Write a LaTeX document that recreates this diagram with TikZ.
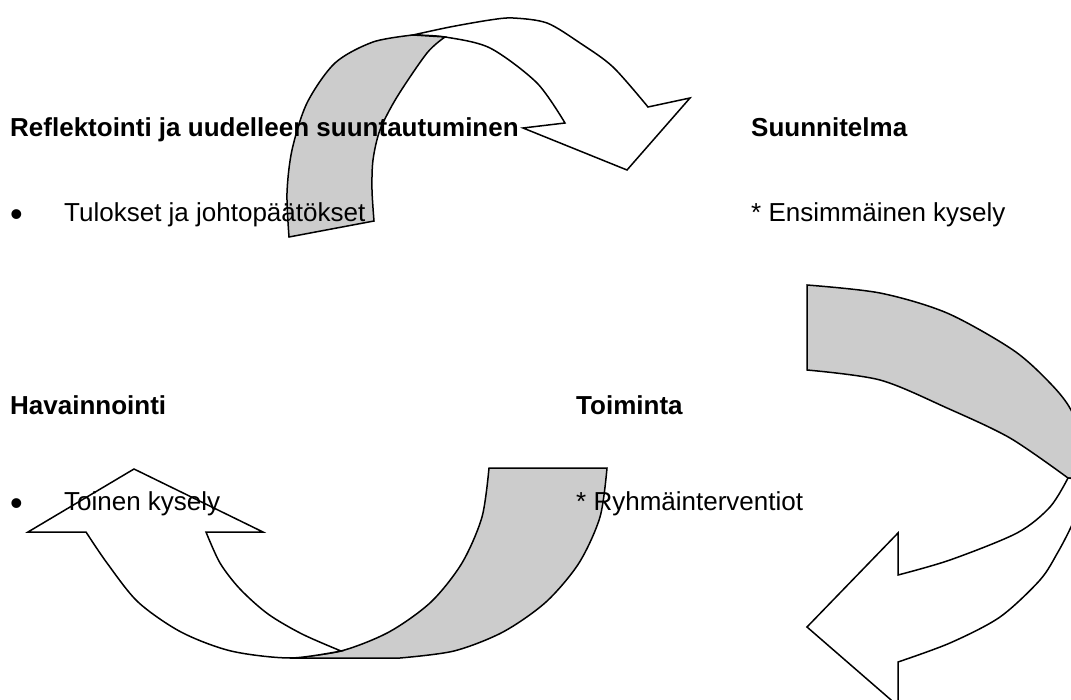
\documentclass[tikz,border=0pt]{standalone}
\usepackage{fontspec}
\setmainfont{Liberation Sans}
\definecolor{ribbon}{RGB}{204,204,204}
\begin{document}
\begin{tikzpicture}[x=1pt,y=-1pt,
  shapeline/.style={draw=black, line width=1.5pt, line join=miter},
  back/.style={shapeline, fill=ribbon},
  front/.style={shapeline, fill=white},
  head/.style={anchor=base west, inner sep=0pt, font=\fontsize{26}{30}\selectfont\bfseries},
  body/.style={anchor=base west, inner sep=0pt, font=\fontsize{26}{30}\selectfont},
  dot/.style={anchor=base west, inner sep=0pt, font=\fontsize{36}{40}\selectfont}]
\useasboundingbox (0,0) rectangle (1071,700);
\begin{scope}
\clip (0,0) rectangle (1071,700);
% top arrow
\path[front] plot[smooth] coordinates {(413,35) (450,27) (490,20) (513,18) (547,23) (580,43) (613,67) (648,107)}
  -- (690,98) -- (627,170) -- (523,128) -- (565,123)
  -- plot[smooth] coordinates {(565,123) (537,83) (490,48) (445,37) (413,35)} -- cycle;
\path[back] plot[smooth] coordinates {(289,237) (287,193) (292,150) (307,103) (335,63) (373,42) (413,35)}
  -- (445,37)
  -- plot[smooth] coordinates {(445,37) (427,53) (397,97) (380,130) (373,160) (372,190) (374,221)} -- cycle;
% right arrow
\path[back] plot[smooth] coordinates {(807,285) (880,293) (947,313) (1013,350) (1050,383) (1071,410) (1085,450) (1088,480)}
  -- (1068,478)
  -- plot[smooth] coordinates {(1068,478) (1010,438) (947,408) (880,380) (807,370)} -- cycle;
\path[front] plot[smooth] coordinates {(1088,480) (1080,505) (1071,527) (1058,552) (1040,580) (1000,617) (950,643) (898,662)}
  -- (898,706) -- (807,627) -- (898,533) -- (898,575)
  -- plot[smooth] coordinates {(898,575) (950,560) (1017,533) (1050,507) (1068,478)} -- cycle;
% bottom-left arrow
\path[back] (489,468) -- (607,468)
  -- plot[smooth] coordinates {(607,468) (600,517) (579,563) (546,602) (503,632) (454,651) (400,658)}
  -- (290,658)
  -- plot[smooth] coordinates {(290,658) (341,651) (389,632) (431,602) (462,563) (482,517) (489,468)} -- cycle;
\path[front] (28,532) -- (134,469) -- (263,532) -- (206,532)
  -- plot[smooth] coordinates {(206,532) (220,563) (240,589) (268,614) (302,634) (341,651)}
  -- plot[smooth] coordinates {(341,651) (290,658) (231,651) (181,632) (138,602) (107,563) (86,532)} -- cycle;
\end{scope}
% texts
\node[head] (refl) at (10,137) {Reflektointi ja uudelleen suuntautuminen};
\node[dot] (bul1) at (10,227) {•};
\node[body] (tul) at (64,222) {Tulokset ja johtopäätökset};
\node[head] (suun) at (751,137) {Suunnitelma};
\node[body] (ens) at (751,222) {* Ensimmäinen kysely};
\node[head] (hav) at (10,415) {Havainnointi};
\node[head] (toim) at (576,415) {Toiminta};
\node[dot] (bul2) at (10,515) {•};
\node[body] (toi) at (64,510) {Toinen kysely};
\node[body] (ryh) at (576,510) {* Ryhmäinterventiot};
\end{tikzpicture}
\end{document}
